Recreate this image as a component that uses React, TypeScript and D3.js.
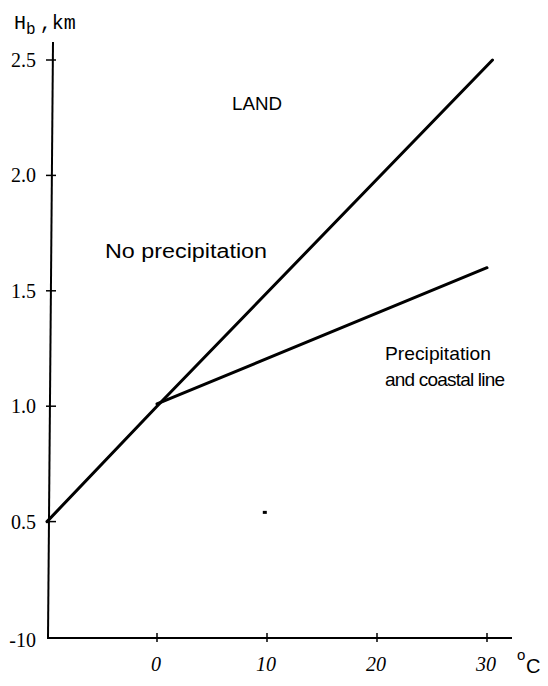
import React from "react";
import * as d3 from "d3";

const xTicks = [0, 10, 20, 30];
const yTicks = [0.5, 1.0, 1.5, 2.0, 2.5];
const yTickLabels = ["0.5", "1.0", "1.5", "2.0", "2.5"];
const noPrecipT = [-10, 0, 30.5];
const noPrecipH = [0.5, 1.0, 2.5];
const precipT = [0, 30];
const precipH = [1.01, 1.6];
const strayDot = [{ t: 9.8, h: 0.54 }];

const W = 548;
const H = 686;

export default function App() {
  const x = d3.scaleLinear().domain([-10, 30]).range([47, 487]);
  const y = d3.scaleLinear().domain([0, 2.5]).range([637, 60]);
  const line = d3
    .line<[number, number]>()
    .x((d) => x(d[0]))
    .y((d) => y(d[1]));
  const noPrecip = noPrecipT.map((t, i) => [t, noPrecipH[i]] as [number, number]);
  const precip = precipT.map((t, i) => [t, precipH[i]] as [number, number]);
  const axisX = 50;
  const axisY = y(0) + 1;
  const serif = "'Liberation Serif', 'DejaVu Serif', serif";
  const sans = "'Liberation Sans', Arial, sans-serif";

  return (
    <svg
      width={W}
      height={H}
      style={{ position: "absolute", left: 0, top: 0, background: "#fff" }}
    >
      <rect width={W} height={H} fill="#fff" />
      {/* axes */}
      <line x1={axisX + 3} y1={42} x2={axisX - 2} y2={axisY} stroke="#000" strokeWidth={2} />
      <line x1={axisX - 3} y1={axisY} x2={512} y2={axisY} stroke="#000" strokeWidth={2} />
      {/* y ticks */}
      {yTicks.map((v, i) => (
        <g key={"yt" + i}>
          <line x1={axisX - 4} x2={axisX + 6} y1={y(v)} y2={y(v)} stroke="#000" strokeWidth={1.5} />
          <text
            x={36}
            y={y(v) + 7}
            textAnchor="end"
            fontFamily={serif}
            fontSize={20}
            fill="#000"
          >
            {yTickLabels[i]}
          </text>
        </g>
      ))}
      <text x={36} y={axisY + 9} textAnchor="end" fontFamily={serif} fontSize={20} fill="#000">
        -10
      </text>
      {/* x ticks */}
      {xTicks.map((v) => (
        <g key={"xt" + v}>
          <line x1={x(v)} x2={x(v)} y1={axisY - 5} y2={axisY + 4} stroke="#000" strokeWidth={1.5} />
          <text
            x={x(v) - 1}
            y={axisY + 33}
            textAnchor="middle"
            fontFamily={serif}
            fontStyle="italic"
            fontSize={20}
            fill="#000"
          >
            {v}
          </text>
        </g>
      ))}
      <text x={517} y={660} fontFamily={sans} fontSize={15} fill="#000">
        o
      </text>
      <text x={526} y={673} fontFamily={sans} fontSize={20} fill="#000">
        C
      </text>
      {/* y axis title */}
      <text x={14} y={29} fontFamily="'Liberation Mono', 'DejaVu Sans Mono', monospace" fontSize={20} fill="#000">
        H
        <tspan fontSize={16} dy={5}>b</tspan>
        <tspan dy={-5} dx={4}>,km</tspan>
      </text>
      {/* lines */}
      <path d={line(noPrecip) || ""} fill="none" stroke="#000" strokeWidth={3} strokeLinecap="round" />
      <path d={line(precip) || ""} fill="none" stroke="#000" strokeWidth={3} strokeLinecap="round" />
      {strayDot.map((d, i) => (
        <rect key={i} x={x(d.t) - 2} y={y(d.h) - 1.5} width={4} height={3} fill="#000" />
      ))}
      {/* labels */}
      <text x={232} y={110} fontFamily={sans} fontSize={18} textLength={50} lengthAdjust="spacingAndGlyphs" fill="#000">
        LAND
      </text>
      <text x={105} y={258} fontFamily={sans} fontSize={20} textLength={162} lengthAdjust="spacingAndGlyphs" fill="#000">
        No precipitation
      </text>
      <text x={385} y={360} fontFamily={sans} fontSize={19} textLength={106} lengthAdjust="spacingAndGlyphs" fill="#000">
        Precipitation
      </text>
      <text x={385} y={386} fontFamily={sans} fontSize={19} textLength={120} lengthAdjust="spacing" fill="#000">
        and coastal line
      </text>
    </svg>
  );
}
